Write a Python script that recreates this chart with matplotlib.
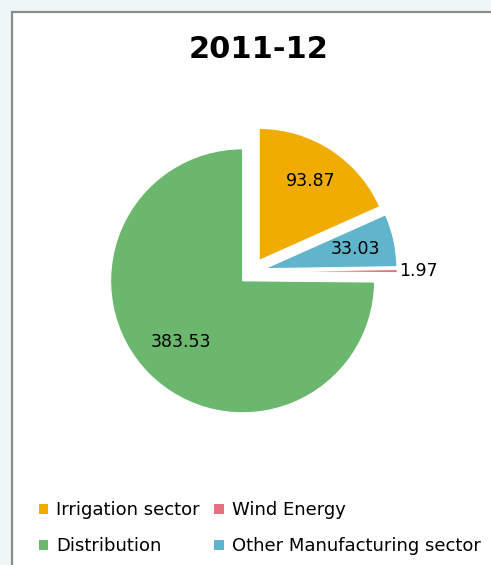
import numpy as np
import matplotlib
matplotlib.use("Agg")
import matplotlib.pyplot as plt
from matplotlib.patches import Rectangle, Patch

# slices in drawing order (clockwise from 12 o'clock)
sectors = ["Irrigation sector", "Other Manufacturing sector", "Wind Energy", "Distribution"]
values = [93.87, 33.03, 1.97, 383.53]
colors = ["#F0AC00", "#60B4CC", "#E5707E", "#6CB76E"]

# legend reads row by row
legend_order = ["Irrigation sector", "Wind Energy", "Distribution", "Other Manufacturing sector"]

label_dist = [0.72, 0.70, 1.16, 0.66]
explode = [0.1, 0.1, 0.1, 0.1]

W, H = 491, 565
fig = plt.figure(figsize=(W / 100, H / 100), dpi=100)
fig.patch.set_facecolor("#EEF6F6")

# white chart panel with grey frame, running off the right and bottom
panel = Rectangle((11.5 / W, -0.05), 1.2, (H - 11.5) / H + 0.05,
                  transform=fig.transFigure, facecolor="white",
                  edgecolor="#8C8C8C", linewidth=1.6, zorder=-1)
fig.patches.append(panel)

fig.text(259 / W, 1 - 49 / H, "2011-12", ha="center", va="center",
         fontsize=22, fontweight="bold", color="black")

ax = fig.add_axes([54 / W, 95.5 / H, 396 / W, 396 / H])

wedges, _ = ax.pie(values, colors=colors, explode=explode, startangle=90,
                   counterclock=False, radius=1.0,
                   wedgeprops=dict(linewidth=0.8, edgecolor="white"))
# pie() resets the limits, so fix them afterwards
ax.set_xlim(-1.5, 1.5)
ax.set_ylim(-1.5, 1.5)
ax.set_aspect("equal")
ax.axis("off")

for w, v, d, e in zip(wedges, values, label_dist, explode):
    mid = np.deg2rad((w.theta1 + w.theta2) / 2)
    x = (e + d) * np.cos(mid)
    y = (e + d) * np.sin(mid)
    ax.text(x, y, f"{v:.2f}", ha="center", va="center", fontsize=12.5, color="black")

col = dict(zip(sectors, colors))
handles = [Patch(facecolor=col[s], edgecolor="none") for s in legend_order]
# ncol fills column-first, so reorder to get row-wise layout
order = [0, 2, 1, 3]
fig.legend([handles[i] for i in order], [legend_order[i] for i in order],
           ncol=2, loc="upper left", bbox_to_anchor=(23 / W, 1 - 485 / H),
           frameon=False, fontsize=13, handlelength=0.5, handleheight=0.5,
           handletextpad=0.45, columnspacing=0.8, labelspacing=1.0)

fig.savefig("out.png", dpi=100)
